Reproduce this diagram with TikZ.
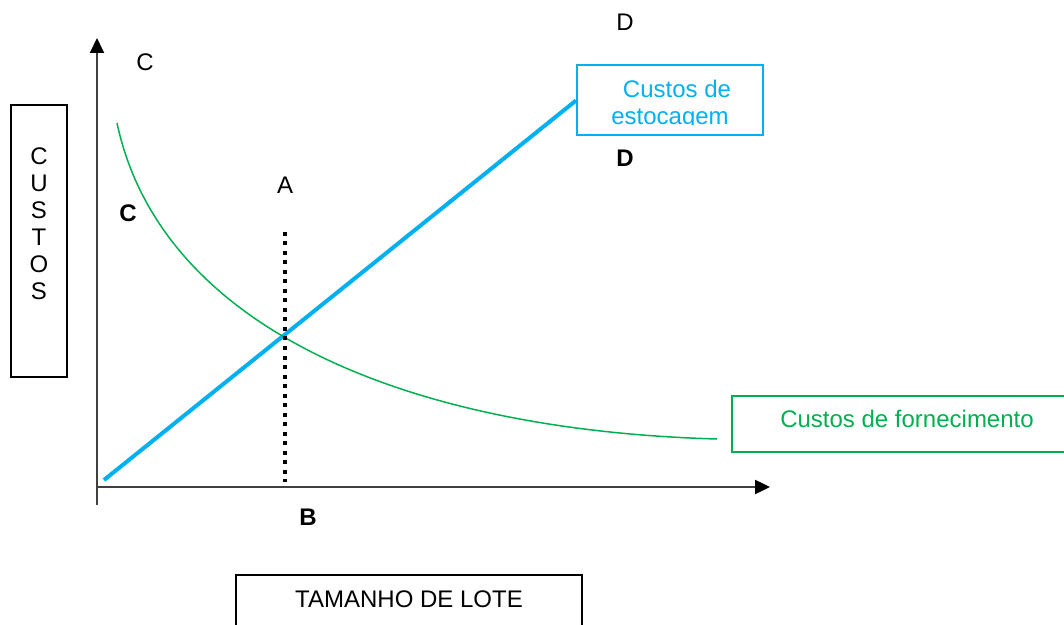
\documentclass[tikz,border=0pt]{standalone}
\usepackage{fontspec}
\setmainfont{Liberation Sans}
\usetikzlibrary{arrows.meta}
\definecolor{estoque}{HTML}{00B0F0}
\definecolor{fornece}{HTML}{00B050}
\definecolor{eixo}{HTML}{404040}

\begin{document}
\begin{tikzpicture}[x=0.5pt,y=-0.5pt,>={Triangle[length=7.5pt,width=7pt,color=black]},
    letter node/.style={inner sep=0pt,font=\fontsize{12}{14}\selectfont},
    bold node/.style={letter node,font=\fontsize{12}{14}\selectfont\bfseries},
    box node/.style={draw,inner sep=0pt,line width=0.75pt,font=\fontsize{12}{14}\selectfont}]
    \clip (0,0) rectangle (1064,625);

    % eixos
    \coordinate (o) at (97,505);
    \coordinate (ytop) at (97,38);
    \coordinate (xo) at (97,487);
    \coordinate (xend) at (770,487);
    \draw[eixo,line width=1pt,->] (o) -- (ytop);
    \draw[eixo,line width=1.2pt,->] (xo) -- (xend);

    % caixas
    \node[box node,minimum width=28pt,minimum height=136pt] (custosbox) at (39,241) {};
    \node[letter node,align=center,font=\fontsize{12}{13.5}\selectfont] (custos) at (39,224) {C\\U\\S\\T\\O\\S};
    \node[box node,anchor=base,minimum width=173pt,text height=16.25pt,text depth=30pt] (lote) at (409,607.5) {TAMANHO DE LOTE};
    \node[box node,draw=fornece,text=fornece,line width=1pt,anchor=base,minimum width=175pt,text height=15.8pt,text depth=12.2pt] (forn) at (907,427.6) {Custos de fornecimento};
    \node[box node,draw=estoque,line width=1pt,minimum width=93pt,minimum height=35pt] (stock) at (670,100.5) {};
    \begin{scope}
        \clip (578,67) rectangle (762,124.5);
        \node[letter node,text=estoque,anchor=base] (stock1) at (677,97.5) {Custos de};
        \node[letter node,text=estoque,anchor=base] (stock2) at (670,124.5) {estocagem};
    \end{scope}

    % letras
    \node[letter node] (c1) at (145,62) {C};
    \node[bold node] (c2) at (128,213) {C};
    \node[letter node] (a) at (285,185) {A};
    \node[bold node] (b) at (308,517) {B};
    \node[letter node] (d1) at (625,22) {D};
    \node[bold node] (d2) at (625,158) {D};

    % curvas
    \coordinate (s0) at (104,480);
    \draw[estoque,line width=2pt] (s0) -- (stock.west);
    \coordinate (f0) at (117,123);
    \coordinate (f1) at (717,439);
    \draw[fornece,line width=0.75pt] (f0) .. controls (160,325) and (400,430) .. (f1);

    \coordinate (atop) at (285,232);
    \coordinate (abot) at (285,482);
    \draw[line width=2pt,dash pattern=on 2pt off 2.75pt] (atop) -- (abot);
\end{tikzpicture}
\end{document}
